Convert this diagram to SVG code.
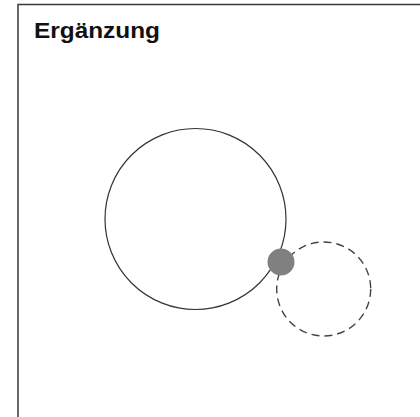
<svg xmlns="http://www.w3.org/2000/svg" width="420" height="417" viewBox="0 0 420 417">
<style>
.frame{fill:#fff;stroke:#3a3a3a;stroke-width:1.5}
.title{font-family:"Liberation Sans",Arial,sans-serif;font-weight:bold;font-size:22px;fill:#111}
.main{fill:none;stroke:#333;stroke-width:1.2}
.dash{fill:none;stroke:#444;stroke-width:1.4;stroke-dasharray:8,5}
.dot{fill:#808080}
</style>
<rect width="420" height="417" fill="#fff"/>
<g id="frame">
<rect class="frame" x="18" y="4.5" width="420" height="430"/>
<text class="title" x="34" y="38" textLength="126" lengthAdjust="spacingAndGlyphs">Ergänzung</text>
</g>
<g id="circle-main">
<circle class="main" cx="195.5" cy="219" r="90.5"/>
</g>
<g id="circle-dashed">
<circle class="dash" cx="323.7" cy="289" r="47"/>
</g>
<g id="point">
<circle class="dot" cx="281" cy="262" r="13.5"/>
</g>
<g id="connectors"/>
</svg>
